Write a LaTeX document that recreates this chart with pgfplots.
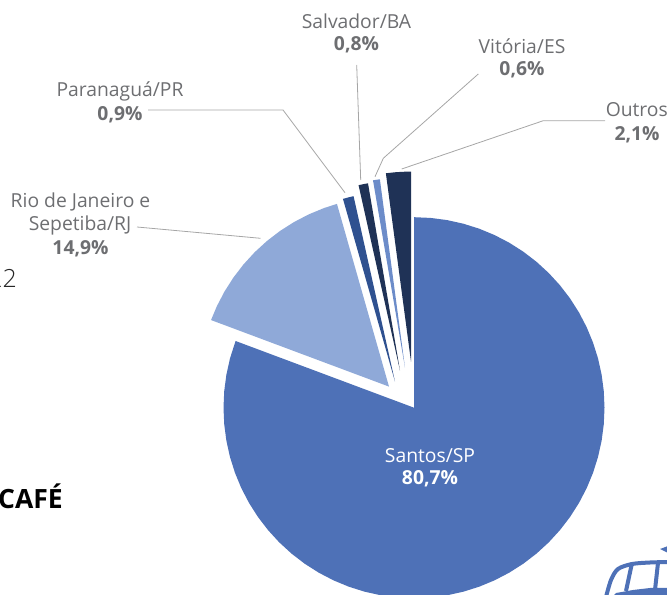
\documentclass[border=0pt]{standalone}
\usepackage{pgfplots}
\usepgfplotslibrary{polar}
\pgfplotsset{compat=1.18}
\usepackage{fontspec}
\setmainfont{Open Sans}
\newfontfamily\oslight{Open Sans Light}
\definecolor{cMain}{HTML}{4E71B7}
\definecolor{cRio}{HTML}{8FA9D8}
\definecolor{cPar}{HTML}{2F5190}
\definecolor{cSal}{HTML}{1F3256}
\definecolor{cVit}{HTML}{6C8CC9}
\definecolor{cOut}{HTML}{1F3256}
\definecolor{cTxt}{HTML}{6D6E71}
\definecolor{cLine}{HTML}{A6A6A6}
\newcommand{\lab}{\fontsize{19.3}{23}\selectfont}
\begin{document}
\begin{tikzpicture}
\useasboundingbox (0,0) rectangle (667pt,595pt);
\begin{axis}[scale only axis,width=667pt,height=595pt,xmin=0,xmax=667,ymin=0,ymax=595,hide axis,anchor=south west,at={(0,0)}]
% Santos/SP 80.7 %
\addplot[fill=cMain,draw=none,data cs=polar,xshift=414pt,yshift=187.3pt] coordinates {(0,0)
(90,190.5)(85,190.5)(80,190.5)(75,190.5)(70,190.5)(65,190.5)(60,190.5)(55,190.5)(50,190.5)(45,190.5)(40,190.5)(35,190.5)(30,190.5)(25,190.5)(20,190.5)(15,190.5)(10,190.5)(5,190.5)(0,190.5)
(-5,190.5)(-10,190.5)(-15,190.5)(-20,190.5)(-25,190.5)(-30,190.5)(-35,190.5)(-40,190.5)(-45,190.5)(-50,190.5)(-55,190.5)(-60,190.5)(-65,190.5)(-70,190.5)(-75,190.5)(-80,190.5)(-85,190.5)(-90,190.5)
(-95,190.5)(-100,190.5)(-105,190.5)(-110,190.5)(-115,190.5)(-120,190.5)(-125,190.5)(-130,190.5)(-135,190.5)(-140,190.5)(-145,190.5)(-150,190.5)(-155,190.5)(-160,190.5)(-165,190.5)(-170,190.5)(-175,190.5)(-180,190.5)
(-185,190.5)(-190,190.5)(-195,190.5)(-200.5,190.5)} -- cycle;
% Rio de Janeiro e Sepetiba/RJ 14.9 %
\addplot[fill=cRio,draw=none,data cs=polar,xshift=389pt,yshift=208.4pt] coordinates {(0,0)
(159.5,190)(155,190)(150,190)(145,190)(140,190)(135,190)(130,190)(125,190)(120,190)(115,190)(110,190)(105.9,190)} -- cycle;
% Paranagua/PR 0.9 %
\addplot[fill=cPar,draw=none,data cs=polar,xshift=395pt,yshift=213.4pt] coordinates {(0,0)
(105.9,190)(104,190)(102.6,190)} -- cycle;
% Salvador/BA 0.8 %
\addplot[fill=cSal,draw=none,data cs=polar,xshift=400pt,yshift=224.4pt] coordinates {(0,0)
(102.6,190)(101,190)(99.7,190)} -- cycle;
% Vitoria/ES 0.6 %
\addplot[fill=cVit,draw=none,data cs=polar,xshift=405pt,yshift=227.4pt] coordinates {(0,0)
(99.7,190)(98.6,190)(97.6,190)} -- cycle;
% Outros 2.1 %
\addplot[fill=cOut,draw=none,data cs=polar,xshift=411pt,yshift=233.4pt] coordinates {(0,0)
(97.6,190)(95,190)(92.5,190)(90,190)} -- cycle;
% leader lines
\addplot[cLine,line width=0.8pt] coordinates {(137,368)(260.5,356.7)};
\addplot[cLine,line width=0.8pt] coordinates {(148,485)(283,485)(345,402.3)};
\addplot[cLine,line width=0.8pt] coordinates {(356.7,530)(360.7,415)};
\addplot[cLine,line width=0.8pt] coordinates {(478.3,521)(383.3,436.7)(375,418.3)};
\addplot[cLine,line width=0.8pt] coordinates {(605,474.3)(543.3,474.3)(401.7,426)};
% ship
\addplot[cMain,line width=4pt,smooth] coordinates {(606,-2)(611,15)(618,26)(632,31)(650,32.5)(669,33)};
\addplot[cMain,line width=4pt] coordinates {(632,32)(626,4)};
\addplot[cMain,line width=4pt] coordinates {(658,32)(655,5)};
\addplot[fill=cMain,draw=none] coordinates {(614,0)(616,2)(633,5)(650,7)(668,7)(668,0)} -- cycle;
\addplot[fill=cMain,draw=none] coordinates {(660,46)(668,49)(668,42)} -- cycle;
% labels
\node[font=\lab,text=cTxt] at (axis cs:356.5,574) {Salvador/BA};
\node[font=\lab\bfseries,text=cTxt] at (axis cs:356.5,550) {0,8\%};
\node[font=\lab,text=cTxt] at (axis cs:522,549) {Vitória/ES};
\node[font=\lab\bfseries,text=cTxt] at (axis cs:522,525.5) {0,6\%};
\node[font=\lab,text=cTxt,anchor=east,inner sep=0pt] at (axis cs:668,485) {Outros};
\node[font=\lab\bfseries,text=cTxt] at (axis cs:637,460.5) {2,1\%};
\node[font=\lab,text=cTxt] at (axis cs:120,504) {Paranaguá/PR};
\node[font=\lab\bfseries,text=cTxt] at (axis cs:120,480) {0,9\%};
\node[font=\lab,text=cTxt] at (axis cs:80.5,393.5) {Rio de Janeiro e};
\node[font=\lab,text=cTxt] at (axis cs:80,369.5) {Sepetiba/RJ};
\node[font=\lab\bfseries,text=cTxt] at (axis cs:80.5,346.5) {14,9\%};
\node[font=\lab,text=white] at (axis cs:430,139.5) {Santos/SP};
\node[font=\lab\bfseries,text=white] at (axis cs:430,116.5) {80,7\%};
\node[font=\fontsize{25}{28}\selectfont\oslight,text=black!85,anchor=east,inner sep=0pt] at (axis cs:17,317) {22};
\node[font=\fontsize{26.5}{30}\selectfont\bfseries,text=black,anchor=west,inner sep=0pt] at (axis cs:-2,99) {CAFÉ};
\end{axis}
\end{tikzpicture}
\end{document}
